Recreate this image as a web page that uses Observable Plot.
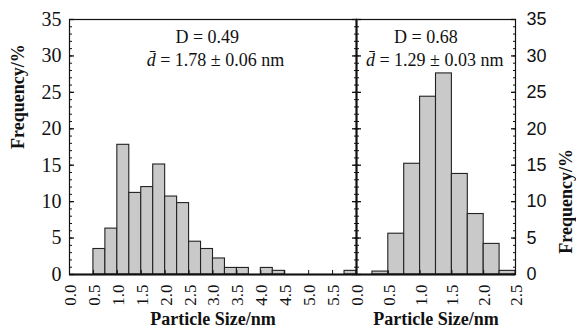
<!DOCTYPE html>
<html>
<head>
<meta charset="utf-8">
<script src="https://cdn.jsdelivr.net/npm/d3@7"></script>
<script src="https://cdn.jsdelivr.net/npm/@observablehq/plot@0.6"></script>
<style>
  html, body { margin: 0; padding: 0; background: #fff; }
  #chart { position: relative; width: 576px; height: 336px; overflow: hidden; background: #fff; }
  #chart svg { position: absolute; top: 0; }
</style>
</head>
<body>
<div id="chart"></div>
<script>
// ---- data ----
const binWidth = 0.25;
const leftBinStarts = [0.5, 0.75, 1.0, 1.25, 1.5, 1.75, 2.0, 2.25, 2.5, 2.75, 3.0, 3.25, 3.5, 3.75, 4.0, 4.25, 4.5, 4.75, 5.0, 5.25, 5.5, 5.75];
const leftFreq      = [3.5, 6.3, 17.8, 11.2, 12.0, 15.1, 10.7, 9.8, 4.5, 3.5, 2.2, 0.9, 0.9, 0, 0.9, 0.5, 0, 0, 0, 0, 0, 0.5];
const rightBinStarts = [0.25, 0.5, 0.75, 1.0, 1.25, 1.5, 1.75, 2.0, 2.25];
const rightFreq      = [0.4, 5.6, 15.2, 24.4, 27.6, 13.8, 8.3, 4.2, 0.5];

const yMajor = [0, 5, 10, 15, 20, 25, 30, 35];
const yMinor = d3.range(0, 36, 1);
const leftXTicks = [0, 0.5, 1, 1.5, 2, 2.5, 3, 3.5, 4, 4.5, 5, 5.5];
const rightXTicks = [0, 0.5, 1, 1.5, 2, 2.5];

const leftNotes = ["D = 0.49", "d\u0304 = 1.78 \u00b1 0.06 nm"];
const leftNoteX = [2.88, 3.05];
const rightNotes = ["D = 0.68", "d\u0304 = 1.29 \u00b1 0.03 nm"];
const rightNoteX = [1.09, 1.23];
const noteY = [32.6, 29.4];

const xTitle = "Particle Size/nm";
const yTitle = "Frequency/%";

const SERIF = "'Liberation Serif', 'Times New Roman', Times, serif";
const SANS = "'Liberation Sans', Arial, Helvetica, sans-serif";
const fmt = d3.format(".1f");

function bars(starts, freq) {
  return starts.map((s, i) => ({x1: s, x2: s + binWidth, y: freq[i]})).filter(d => d.y > 0);
}

function notes(texts, xs) {
  return texts.map((t, i) => ({t, x: xs[i], y: noteY[i]}));
}

const common = {
  height: 336,
  marginTop: 19,
  marginBottom: 62,
  style: {overflow: "visible", background: "transparent", fontFamily: SERIF, color: "#111"},
  y: {domain: [0, 35]}
};

// ---- left panel ----
const left = Plot.plot({
  ...common,
  width: 356,
  marginLeft: 69,
  marginRight: 0,
  x: {domain: [0, 6]},
  marks: [
    Plot.rectY(bars(leftBinStarts, leftFreq), {x1: "x1", x2: "x2", y: "y", fill: "#c9c9c9", stroke: "#222", strokeWidth: 1.1}),
    Plot.frame({stroke: "#111", strokeWidth: 1.2}),
    Plot.ruleY([0], {stroke: "#111", strokeWidth: 2}),
    Plot.ruleX([6], {stroke: "#111", strokeWidth: 2}),
    // left axis ticks (inward) and labels
    Plot.axisY({anchor: "left", ticks: yMajor, tickSize: -5, tickFormat: () => "", label: null, strokeWidth: 1.3}),
    Plot.axisY({anchor: "left", ticks: yMinor, tickSize: -3, tickFormat: () => "", label: null}),
    Plot.axisY({anchor: "left", ticks: yMajor, tickSize: 0, tickPadding: 8, tickFormat: d => String(d), label: null, fontSize: 20, fontFamily: SERIF}),
    // divider ticks (left side)
    Plot.axisY({anchor: "right", ticks: yMajor, tickSize: -5, tickFormat: () => "", label: null, strokeWidth: 1.3}),
    Plot.axisY({anchor: "right", ticks: yMinor, tickSize: -3, tickFormat: () => "", label: null}),
    // x axis
    Plot.axisX({anchor: "bottom", ticks: leftXTicks, tickSize: -4, tickFormat: () => "", label: null}),
    Plot.axisX({anchor: "bottom", ticks: leftXTicks, tickSize: 0, tickPadding: 10, tickRotate: -90, tickFormat: fmt, label: null, fontSize: 17, fontFamily: SERIF, dx: 1}),
    Plot.text([xTitle], {frameAnchor: "bottom", dy: 50, text: d => d, fontSize: 18, fontWeight: "bold", fontFamily: SERIF, fill: "#111"}),
    Plot.text([yTitle], {frameAnchor: "left", dx: -51, dy: 2, rotate: -90, text: d => d, fontSize: 18, fontWeight: "bold", fontFamily: SERIF, fill: "#111"}),
    Plot.text(notes(leftNotes, leftNoteX), {x: "x", y: "y", text: "t", fontSize: 18, fontFamily: SERIF, fill: "#111"})
  ]
});

// ---- right panel ----
const right = Plot.plot({
  ...common,
  width: 220,
  marginLeft: 0,
  marginRight: 61,
  x: {domain: [0, 2.5]},
  marks: [
    Plot.rectY(bars(rightBinStarts, rightFreq), {x1: "x1", x2: "x2", y: "y", fill: "#c9c9c9", stroke: "#222", strokeWidth: 1.1}),
    Plot.frame({stroke: "#111", strokeWidth: 1.2}),
    Plot.ruleY([0], {stroke: "#111", strokeWidth: 2}),
    // divider ticks (right side)
    Plot.axisY({anchor: "left", ticks: yMajor, tickSize: -5, tickFormat: () => "", label: null, strokeWidth: 1.3}),
    Plot.axisY({anchor: "left", ticks: yMinor, tickSize: -3, tickFormat: () => "", label: null}),
    // right axis
    Plot.axisY({anchor: "right", ticks: yMajor, tickSize: -5, tickFormat: () => "", label: null, strokeWidth: 1.3}),
    Plot.axisY({anchor: "right", ticks: yMinor, tickSize: -3, tickFormat: () => "", label: null}),
    Plot.axisY({anchor: "right", ticks: yMajor, tickSize: 0, tickPadding: 11, tickFormat: d => String(d), label: null, fontSize: 18, fontFamily: SANS}),
    // x axis
    Plot.axisX({anchor: "bottom", ticks: rightXTicks, tickSize: -4, tickFormat: () => "", label: null}),
    Plot.axisX({anchor: "bottom", ticks: rightXTicks, tickSize: 0, tickPadding: 10, tickRotate: -90, tickFormat: fmt, label: null, fontSize: 17, fontFamily: SERIF, dx: 1}),
    Plot.text([xTitle], {frameAnchor: "bottom", dy: 50, text: d => d, fontSize: 18, fontWeight: "bold", fontFamily: SERIF, fill: "#111"}),
    Plot.text([yTitle], {frameAnchor: "right", dx: 51, dy: 2, rotate: -90, text: d => d, fontSize: 18, fontWeight: "bold", fontFamily: SERIF, fill: "#111"}),
    Plot.text(notes(rightNotes, rightNoteX), {x: "x", y: "y", text: "t", fontSize: 18, fontFamily: SERIF, fill: "#111"})
  ]
});

left.style.left = "0px";
right.style.left = "356px";
const chart = document.getElementById("chart");
chart.appendChild(left);
chart.appendChild(right);

// italic d-bar in the annotations
for (const svg of [left, right]) {
  svg.querySelectorAll("text").forEach(el => {
    const s = el.textContent;
    if (s.startsWith("d\u0304")) {
      el.textContent = "";
      const ts = document.createElementNS("http://www.w3.org/2000/svg", "tspan");
      ts.setAttribute("font-style", "italic");
      ts.textContent = "d\u0304";
      el.appendChild(ts);
      el.appendChild(document.createTextNode(s.slice(2)));
    }
  });
}
</script>
</body>
</html>
